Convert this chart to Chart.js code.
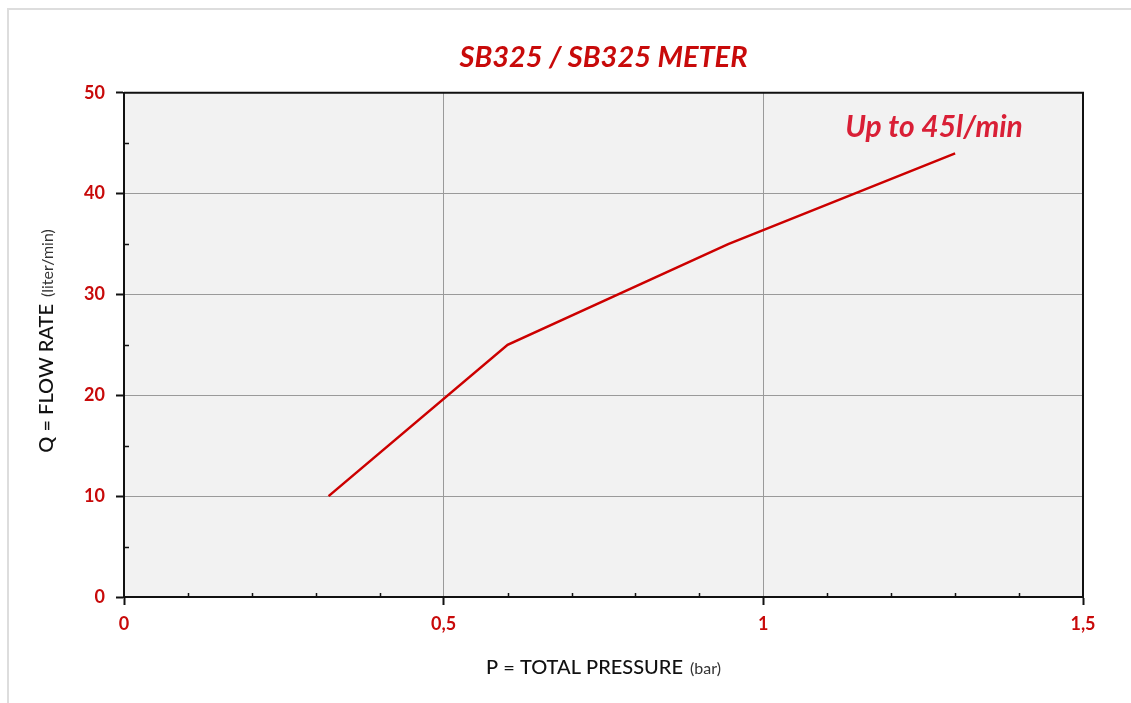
<!DOCTYPE html>
<html>
<head>
<meta charset="utf-8">
<script src="https://cdn.jsdelivr.net/npm/chart.js@4.4.0/dist/chart.umd.min.js"></script>
<style>
  body { margin: 0; background: #fff; }
  #frame {
    position: absolute; left: 7px; top: 8px; width: 1200px; height: 800px;
    border-left: 2px solid #dddddd; border-top: 2px solid #dddddd;
  }
  #chart { position: absolute; left: 0; top: 0; }
</style>
</head>
<body>
<div id="frame"></div>
<canvas id="chart" width="1131" height="703"></canvas>
<script>
'use strict';

// curve
const pressure = [0.32, 0.6, 0.945, 1.3];
const flowRate = [10, 25, 35, 44];

const xTicks = [0, 0.5, 1, 1.5];
const yTicks = [0, 10, 20, 30, 40, 50];
const xMinor = [0.1, 0.2, 0.3, 0.4, 0.6, 0.7, 0.8, 0.9, 1.1, 1.2, 1.3, 1.4];
const yMinor = [5, 15, 25, 35, 45];

const titleText = 'SB325 / SB325 METER';
const noteText = 'Up to 45l/min';
const xTitle = ['P = TOTAL PRESSURE', '(bar)'];
const yTitle = ['Q = FLOW RATE', '(liter/min)'];

const RED = '#c80a0a';
const FONT = 'Lato, "Open Sans", sans-serif';

let canvasElem = document.getElementById('chart');

// plot background, frame, minor ticks, axis titles, note
const decor = {
  id: 'decor',
  beforeDraw(chart) {
    const a = chart.chartArea;
    const ctx = chart.ctx;
    ctx.save();
    ctx.fillStyle = '#f2f2f2';
    ctx.fillRect(a.left, a.top, a.right - a.left, a.bottom - a.top);
    ctx.restore();
  },
  afterDraw(chart) {
    const a = chart.chartArea;
    const ctx = chart.ctx;
    const xs = chart.scales.x;
    const ys = chart.scales.y;
    ctx.save();

    // top / right frame
    ctx.strokeStyle = '#111';
    ctx.lineWidth = 2;
    ctx.beginPath();
    ctx.moveTo(a.left, a.top);
    ctx.lineTo(a.right, a.top);
    ctx.lineTo(a.right, a.bottom);
    ctx.stroke();

    // minor ticks pointing inward
    ctx.lineWidth = 1.5;
    ctx.beginPath();
    xMinor.forEach(v => {
      const px = Math.round(xs.getPixelForValue(v)) + 0.5;
      ctx.moveTo(px, a.bottom);
      ctx.lineTo(px, a.bottom - 4);
    });
    yMinor.forEach(v => {
      const py = Math.round(ys.getPixelForValue(v)) + 0.5;
      ctx.moveTo(a.left, py);
      ctx.lineTo(a.left + 5, py);
    });
    ctx.stroke();

    // axis titles with small unit text
    ctx.textBaseline = 'alphabetic';
    ctx.textAlign = 'left';
    const big = '500 20px ' + FONT;
    const small = '16px ' + FONT;
    const gap = 7;
    ctx.font = big;
    const w1 = ctx.measureText(xTitle[0]).width;
    ctx.font = small;
    const w2 = ctx.measureText(xTitle[1]).width;
    let start = (a.left + a.right) / 2 - (w1 + gap + w2) / 2;
    ctx.fillStyle = '#111';
    ctx.font = big;
    ctx.fillText(xTitle[0], start, 674);
    ctx.fillStyle = '#333';
    ctx.font = small;
    ctx.fillText(xTitle[1], start + w1 + gap, 674);

    ctx.translate(53, (a.top + a.bottom) / 2 - 4);
    ctx.rotate(-Math.PI / 2);
    ctx.font = big;
    const h1 = ctx.measureText(yTitle[0]).width;
    ctx.font = small;
    const h2 = ctx.measureText(yTitle[1]).width;
    start = -(h1 + gap + h2) / 2;
    ctx.fillStyle = '#111';
    ctx.font = big;
    ctx.fillText(yTitle[0], start, 0);
    ctx.fillStyle = '#333';
    ctx.font = small;
    ctx.fillText(yTitle[1], start + h1 + gap, 0);
    ctx.setTransform(1, 0, 0, 1, 0, 0);

    // note near the end of the curve
    ctx.font = 'italic bold 30px ' + FONT;
    ctx.fillStyle = '#d91f36';
    ctx.textAlign = 'center';
    ctx.textBaseline = 'middle';
    ctx.fillText(noteText, xs.getPixelForValue(1.267), ys.getPixelForValue(46.6));
    ctx.restore();
  }
};

function renderChart() {
  const ctx = canvasElem.getContext('2d');

  const chartData = {
    datasets: [{
      label: 'Flow rate',
      data: pressure.map((p, i) => ({ x: p, y: flowRate[i] })),
      borderColor: '#cc0000',
      borderWidth: 2.5,
      pointRadius: 0,
      tension: 0,
      fill: false
    }]
  };

  const edgeColor = ticks => c =>
    (c.tick.value === ticks[0] || c.tick.value === ticks[ticks.length - 1]) ? 'rgba(0,0,0,0)' : '#9a9a9a';

  const tickFont = { family: FONT, size: 18, weight: 'bold' };

  const chartOptions = {
    responsive: false,
    animation: false,
    layout: { padding: { left: 0, right: 48, top: 0, bottom: 0 } },
    plugins: {
      legend: { display: false },
      tooltip: { enabled: false },
      title: {
        display: true,
        fullSize: false,
        text: titleText,
        color: RED,
        font: { family: FONT, size: 29, weight: 'bold', style: 'italic', lineHeight: 1.2 },
        padding: { top: 40, bottom: 18 }
      }
    },
    scales: {
      x: {
        type: 'linear',
        min: xTicks[0],
        max: xTicks[xTicks.length - 1],
        afterBuildTicks: s => { s.ticks = xTicks.map(v => ({ value: v })); },
        afterFit: s => { s.height = 106; },
        ticks: {
          color: RED,
          font: tickFont,
          padding: 8,
          maxRotation: 0,
          callback: v => String(v).replace('.', ',')
        },
        grid: {
          color: edgeColor(xTicks),
          tickColor: '#111',
          tickLength: 8,
          tickWidth: 2,
          lineWidth: 1
        },
        border: { display: true, color: '#111', width: 2 }
      },
      y: {
        type: 'linear',
        min: yTicks[0],
        max: yTicks[yTicks.length - 1],
        afterBuildTicks: s => { s.ticks = yTicks.map(v => ({ value: v })); },
        afterFit: s => { s.width = 124; },
        ticks: {
          color: RED,
          font: tickFont,
          padding: 11
        },
        grid: {
          color: edgeColor(yTicks),
          tickColor: '#111',
          tickLength: 8,
          tickWidth: 2,
          lineWidth: 1
        },
        border: { display: true, color: '#111', width: 2 }
      }
    }
  };

  new Chart(ctx, {
    type: 'line',
    data: chartData,
    options: chartOptions,
    plugins: [decor]
  });
}

renderChart();
</script>
</body>
</html>
